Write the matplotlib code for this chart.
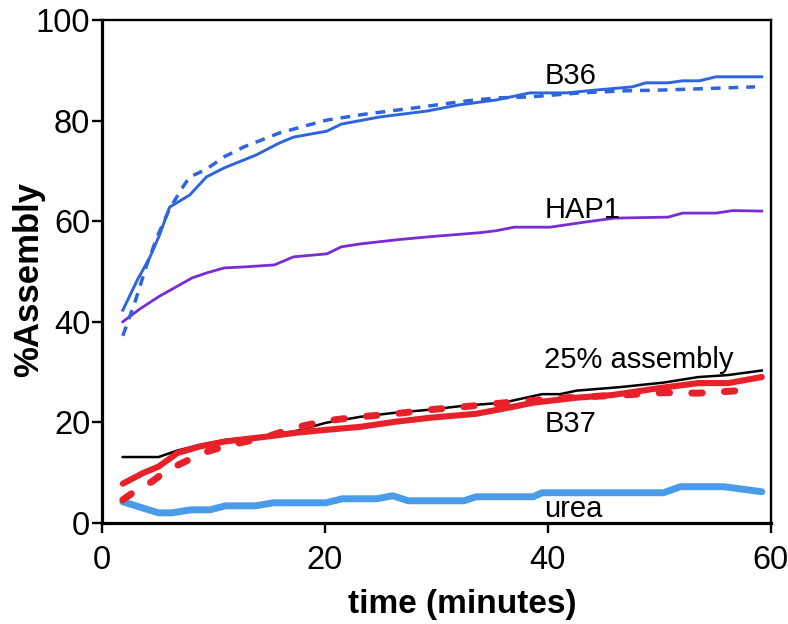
import matplotlib
matplotlib.use("Agg")
import matplotlib.pyplot as plt

plt.rcParams['font.family'] = ['Liberation Sans', 'DejaVu Sans']

# ---- data ----
b36_t = [1.9, 3.2, 4.3, 5.2, 6.1, 7.9, 9.4, 11.0, 13.9, 15.9, 17.2, 20.2, 21.5, 24.9, 29.2,
         32.0, 35.4, 38.4, 41.7, 44.5, 47.6, 48.8, 50.8, 52.1, 53.6, 55.1, 59.2]
b36_y = [42.3, 48.3, 52.7, 57.3, 62.8, 65.2, 68.8, 70.6, 73.2, 75.5, 76.7, 77.9, 79.3, 80.7, 81.9,
         83.1, 84.1, 85.5, 85.5, 86.1, 86.7, 87.5, 87.5, 87.9, 87.9, 88.7, 88.7]

b36d_t = [1.9, 3.0, 4.0, 5.0, 6.0, 7.1, 7.9, 9.3, 11.0, 12.8, 14.3, 15.9, 18.2, 20.2, 23.7,
          28.0, 32.7, 35.4, 38.4, 42.9, 46.8, 50.8, 58.6]
b36d_y = [37.2, 44.0, 51.0, 57.0, 62.0, 66.2, 68.8, 70.2, 72.8, 74.8, 76.1, 77.5, 78.9, 80.1, 81.3,
          82.5, 83.9, 84.5, 84.7, 85.5, 85.9, 86.1, 86.7]

hap1_t = [1.9, 3.4, 5.2, 6.5, 8.1, 9.4, 11.0, 12.8, 15.5, 17.2, 20.2, 21.5, 23.3, 26.5, 29.4,
          33.9, 35.4, 37.0, 40.2, 43.3, 46.0, 50.8, 52.1, 55.1, 56.6, 59.2]
hap1_y = [40.0, 42.5, 45.1, 46.7, 48.7, 49.7, 50.7, 50.9, 51.3, 52.9, 53.5, 54.9, 55.5, 56.3, 56.9,
          57.7, 58.1, 58.8, 58.8, 59.8, 60.6, 60.8, 61.6, 61.6, 62.1, 62.0]

a25_t = [1.9, 5.1, 6.8, 8.8, 11.1, 14.6, 17.3, 20.1, 23.2, 26.3, 29.4, 32.5, 36.0, 39.5, 41.1,
         42.6, 46.5, 50.4, 53.5, 56.2, 59.2]
a25_y = [13.1, 13.1, 14.4, 15.5, 16.5, 17.3, 18.2, 19.9, 21.1, 21.9, 22.5, 23.3, 23.9, 25.6, 25.6,
         26.3, 27.0, 27.9, 29.0, 29.4, 30.3]

b37_t = [1.9, 3.7, 5.1, 6.8, 8.8, 11.1, 14.6, 17.3, 20.1, 23.2, 26.3, 29.4, 33.6, 36.0, 38.7,
         42.6, 45.7, 50.0, 53.5, 56.2, 59.2]
b37_y = [7.8, 9.9, 11.2, 13.9, 15.2, 16.2, 17.1, 17.9, 18.5, 19.1, 20.1, 20.9, 21.7, 22.7, 23.9,
         24.9, 25.4, 26.8, 27.8, 27.8, 29.0]

b37d_t = [1.9, 2.8, 4.5, 5.9, 7.5, 9.0, 11.5, 14.5, 17.3, 20.1, 23.2, 26.3, 29.4, 32.5, 35.2,
          38.3, 41.8, 46.5, 50.4, 53.5, 57.2]
b37d_y = [4.6, 6.0, 8.2, 10.5, 12.2, 13.9, 15.5, 16.9, 18.9, 20.3, 21.1, 21.7, 22.5, 23.1, 23.7,
          24.3, 24.9, 25.4, 25.9, 25.8, 26.3]

urea_t = [1.9, 5.1, 6.3, 8.0, 9.7, 11.1, 13.8, 15.4, 20.1, 21.6, 24.7, 26.1, 27.5, 32.5, 33.6,
          38.7, 39.5, 50.4, 51.9, 55.8, 59.2]
urea_y = [4.2, 2.0, 2.0, 2.6, 2.6, 3.4, 3.4, 4.0, 4.0, 4.8, 4.8, 5.4, 4.4, 4.4, 5.2,
          5.2, 6.0, 6.0, 7.2, 7.2, 6.2]

labels = ["B36", "HAP1", "25% assembly", "B37", "urea"]
label_x = [39.7, 39.7, 39.7, 39.7, 39.7]
label_y = [87.3, 60.6, 30.8, 18.1, 1.2]

x_ticks = [0, 20, 40, 60]
y_ticks = [0, 20, 40, 60, 80, 100]

# ---- figure ----
fig = plt.figure(figsize=(7.88, 6.24), dpi=100)
ax = fig.add_axes([0.129, 0.162, 0.849, 0.806])

ax.plot(a25_t, a25_y, color='black', lw=1.8, zorder=3)
ax.plot(b37_t, b37_y, color='#E8202A', lw=4.4, zorder=4, solid_capstyle='round')
ax.plot(b37d_t, b37d_y, color='#E8202A', lw=5.0, zorder=4, dashes=(1.5, 3.2),
        dash_capstyle='round')
ax.plot(urea_t, urea_y, color='#4A9BE8', lw=5.0, zorder=3, solid_capstyle='round')
ax.plot(hap1_t, hap1_y, color='#7A2BD6', lw=2.0, zorder=3)
ax.plot(b36_t, b36_y, color='#2E64DE', lw=2.1, zorder=3)
ax.plot(b36d_t, b36d_y, color='#2E64DE', lw=2.5, zorder=3, dashes=(2.8, 2.3))

for lab, lx, ly in zip(labels, label_x, label_y):
    ax.text(lx, ly, lab, fontsize=21, ha='left', va='baseline', color='black', zorder=5)

ax.set_xlim(0, 60)
ax.set_ylim(0, 100)
ax.set_xticks(x_ticks)
ax.set_yticks(y_ticks)
ax.tick_params(axis='both', direction='out', length=7.2, width=1.7, labelsize=23.5,
               top=False, right=False)
ax.tick_params(axis='x', pad=9)
ax.tick_params(axis='y', pad=1)

for side in ['left', 'bottom']:
    ax.spines[side].set_linewidth(2.3)
for side in ['top', 'right']:
    ax.spines[side].set_linewidth(1.7)

ax.set_xlabel('time (minutes)', fontsize=24, fontweight='bold')
ax.xaxis.label.set_va('center')
ax.xaxis.set_label_coords(0.539, -0.163)
ax.set_ylabel('%Assembly', fontsize=25, fontweight='bold')
ax.yaxis.label.set_va('center')
ax.yaxis.label.set_rotation_mode('anchor')
ax.yaxis.set_label_coords(-0.109, 0.485)

fig.savefig('out.png', dpi=100)
